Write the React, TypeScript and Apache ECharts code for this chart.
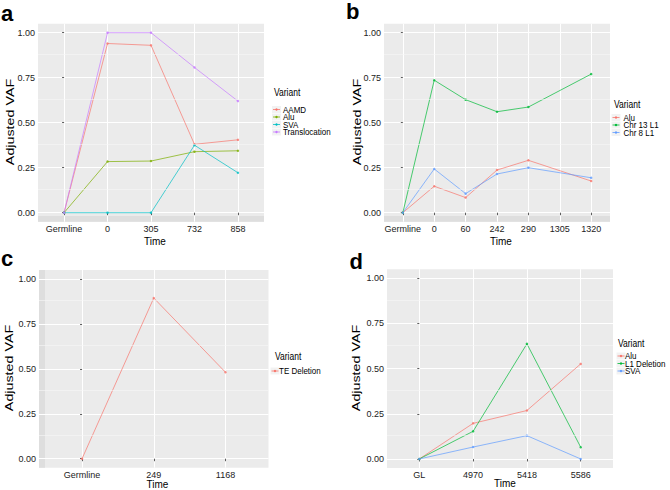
import React, { useEffect, useRef } from 'react';
import * as echarts from 'echarts';

// ---------------- data ----------------
const yTickValues = [0, 0.25, 0.5, 0.75, 1];
const yMinorValues = [0.125, 0.375, 0.625, 0.875];

const catsA = ['Germline', '0', '305', '732', '858'];
const aAAMD = [0, 0.94, 0.93, 0.38, 0.405];
const aAlu = [0, 0.284, 0.287, 0.339, 0.344];
const aSVA = [0, 0, 0, 0.375, 0.222];
const aTranslocation = [0, 1.0, 1.0, 0.807, 0.62];

const catsB = ['Germline', '0', '60', '242', '290', '1305', '1320'];
const bAlu = [0, 0.147, 0.084, 0.237, 0.291, null, 0.176];
const bChr13L1 = [0, 0.736, 0.628, 0.561, 0.587, null, 0.77];
const bChr8L1 = [0, 0.243, 0.106, 0.215, 0.25, null, 0.194];

const catsC = ['Germline', '249', '1168'];
const cTEDeletion = [0, 0.894, 0.481];

const catsD = ['GL', '4970', '5418', '5586'];
const dAlu = [0, 0.197, 0.268, 0.526];
const dL1Deletion = [0, 0.153, 0.637, 0.065];
const dSVA = [0, 0.066, 0.129, 0];

// ---------------- styling ----------------
const FONT = "'Liberation Sans', Arial, sans-serif";
const PAL4 = ['#F8766D', '#7CAE00', '#00BFC4', '#C77CFF'];
const PAL3 = ['#F8766D', '#00BA38', '#619CFF'];

type S = { name: string; color: string; values: (number | null)[] };
type Panel = {
  letter: string;
  cats: string[];
  series: S[];
  grid: { left: number; top: number; width: number; height: number };
  letterPos: [number, number];
  yTitle: [number, number];
  xTitle: [number, number];
  legend: { x: number; titleY: number; keyX: number; textX: number; ys: number[] };
};

const panels: Panel[] = [
  {
    letter: 'a',
    cats: catsA,
    series: [
      { name: 'AAMD', color: PAL4[0], values: aAAMD },
      { name: 'Alu', color: PAL4[1], values: aAlu },
      { name: 'SVA', color: PAL4[2], values: aSVA },
      { name: 'Translocation', color: PAL4[3], values: aTranslocation },
    ],
    grid: { left: 38, top: 23.7, width: 226, height: 198 },
    letterPos: [1, 24],
    yTitle: [10, 122],
    xTitle: [155, 241],
    legend: { x: 274, titleY: 93, keyX: 273, textX: 283, ys: [109.5, 117, 124.5, 132] },
  },
  {
    letter: 'b',
    cats: catsB,
    series: [
      { name: 'Alu', color: PAL3[0], values: bAlu },
      { name: 'Chr 13 L1', color: PAL3[1], values: bChr13L1 },
      { name: 'Chr 8 L1', color: PAL3[2], values: bChr8L1 },
    ],
    grid: { left: 384, top: 23.7, width: 226, height: 198 },
    letterPos: [346, 22.5],
    yTitle: [357, 122],
    xTitle: [501, 241],
    legend: { x: 614, titleY: 105, keyX: 612.5, textX: 623.5, ys: [117.5, 125, 132.5] },
  },
  {
    letter: 'c',
    cats: catsC,
    series: [{ name: 'TE Deletion', color: PAL3[0], values: cTEDeletion }],
    grid: { left: 39, top: 270, width: 229.5, height: 197.7 },
    letterPos: [1, 269.5],
    yTitle: [9, 368],
    xTitle: [157.5, 483.5],
    legend: { x: 275, titleY: 357, keyX: 271.5, textX: 279, ys: [371] },
  },
  {
    letter: 'd',
    cats: catsD,
    series: [
      { name: 'Alu', color: PAL3[0], values: dAlu },
      { name: 'L1 Deletion', color: PAL3[1], values: dL1Deletion },
      { name: 'SVA', color: PAL3[2], values: dSVA },
    ],
    grid: { left: 387, top: 269.2, width: 226, height: 198.8 },
    letterPos: [349.5, 272.5],
    yTitle: [356, 368],
    xTitle: [505, 483],
    legend: { x: 618, titleY: 344, keyX: 617.5, textX: 625, ys: [356, 363.5, 371] },
  },
];

function buildOption() {
  const grids: any[] = [];
  const xAxes: any[] = [];
  const yAxes: any[] = [];
  const series: any[] = [];
  const graphics: any[] = [];

  panels.forEach((p, k) => {
    const idx = p.cats.map((_, i) => i);
    grids.push({
      ...p.grid,
      show: true,
      backgroundColor: '#EBEBEB',
      borderWidth: 0,
    });
    xAxes.push({
      type: 'value',
      gridIndex: k,
      min: -0.6,
      max: p.cats.length - 0.4,
      axisLine: { show: false },
      axisTick: { show: true, customValues: idx, length: 2.5, lineStyle: { color: '#333', width: 0.8 } },
      axisLabel: {
        customValues: idx,
        formatter: (v: number) => p.cats[Math.round(v)] ?? '',
        color: '#222',
        fontSize: 9,
        fontFamily: FONT,
        margin: 2.5,
      },
      splitLine: { show: true, lineStyle: { color: '#FFFFFF', width: 1 } },
    });
    yAxes.push({
      type: 'value',
      gridIndex: k,
      min: -0.05,
      max: 1.05,
      axisLine: { show: false },
      axisTick: { show: true, customValues: yTickValues, length: 2, lineStyle: { color: '#333', width: 0.8 } },
      axisLabel: {
        customValues: yTickValues,
        formatter: (v: number) => v.toFixed(2),
        color: '#222',
        fontSize: 9,
        fontFamily: FONT,
        margin: 3,
      },
      splitLine: { show: true, lineStyle: { color: '#FFFFFF', width: 1 } },
    });
    // minor grid lines
    series.push({
      type: 'line',
      xAxisIndex: k,
      yAxisIndex: k,
      data: [],
      silent: true,
      z: 1,
      markLine: {
        silent: true,
        symbol: 'none',
        label: { show: false },
        lineStyle: { color: '#F6F6F6', width: 0.6, type: 'solid' },
        data: yMinorValues.map((y) => ({ yAxis: y })),
      },
    });
    p.series.forEach((s) => {
      series.push({
        type: 'line',
        name: s.name,
        xAxisIndex: k,
        yAxisIndex: k,
        data: s.values
          .map((v, i) => (v == null ? null : [i, v]))
          .filter((d) => d != null),
        symbol: 'circle',
        symbolSize: 2.5,
        showSymbol: true,
        itemStyle: { color: s.color, opacity: 0.8 },
        lineStyle: { color: s.color, width: 1, opacity: 0.7 },
        silent: true,
        z: 2,
      });
    });

    // panel letter
    graphics.push({
      type: 'text',
      x: p.letterPos[0],
      y: p.letterPos[1],
      style: {
        text: p.letter,
        font: `bold 22px ${FONT}`,
        fill: '#000',
        textAlign: 'left',
        textVerticalAlign: 'bottom',
      },
    });
    // y axis title
    graphics.push({
      type: 'text',
      x: p.yTitle[0],
      y: p.yTitle[1],
      rotation: Math.PI / 2,
      scaleX: 1.3,
      style: {
        text: 'Adjusted VAF',
        font: `11px ${FONT}`,
        fill: '#000',
        textAlign: 'center',
        textVerticalAlign: 'middle',
      },
    });
    // x axis title
    graphics.push({
      type: 'text',
      x: p.xTitle[0],
      y: p.xTitle[1],
      scaleY: 1.1,
      style: {
        text: 'Time',
        font: `10px ${FONT}`,
        fill: '#000',
        textAlign: 'center',
        textVerticalAlign: 'middle',
      },
    });
    // legend
    const L = p.legend;
    graphics.push({
      type: 'text',
      x: L.x,
      y: L.titleY,
      scaleY: 1.2,
      style: {
        text: 'Variant',
        font: `8.5px ${FONT}`,
        fill: '#000',
        textAlign: 'left',
        textVerticalAlign: 'middle',
      },
    });
    p.series.forEach((s, i) => {
      const y = L.ys[i];
      graphics.push({
        type: 'rect',
        shape: { x: L.keyX - 1, y: y - 3.5, width: 9, height: 7 },
        style: { fill: '#F2F2F2' },
      });
      graphics.push({
        type: 'line',
        shape: { x1: L.keyX, y1: y, x2: L.keyX + 7, y2: y },
        style: { stroke: s.color, lineWidth: 1, opacity: 0.8 },
      });
      graphics.push({
        type: 'circle',
        shape: { cx: L.keyX + 3.5, cy: y, r: 1.2 },
        style: { fill: s.color },
      });
      graphics.push({
        type: 'text',
        x: L.textX,
        y,
        scaleY: 1.2,
        style: {
          text: s.name,
          font: `8px ${FONT}`,
          fill: '#000',
          textAlign: 'left',
          textVerticalAlign: 'middle',
        },
      });
    });
  });

  // slightly darker strips seen on the panels' edges
  graphics.push({ type: 'rect', shape: { x: 38, y: 216, width: 226, height: 5.7 }, style: { fill: '#DEDEDE' }, z: 0 });
  graphics.push({ type: 'rect', shape: { x: 384, y: 216, width: 226, height: 5.7 }, style: { fill: '#DEDEDE' }, z: 0 });
  graphics.push({ type: 'rect', shape: { x: 39, y: 270, width: 6, height: 197.7 }, style: { fill: '#DEDEDE' }, z: 0 });

  return {
    animation: false,
    backgroundColor: '#FFFFFF',
    grid: grids,
    xAxis: xAxes,
    yAxis: yAxes,
    series,
    graphic: graphics,
  };
}

export default function App() {
  const ref = useRef<HTMLDivElement>(null);
  useEffect(() => {
    if (!ref.current) return;
    const chart = echarts.init(ref.current, null, { renderer: 'svg' });
    chart.setOption(buildOption() as any);
    return () => chart.dispose();
  }, []);
  return (
    <div
      ref={ref}
      style={{ position: 'fixed', left: 0, top: 0, width: 670, height: 490, background: '#fff' }}
    />
  );
}
